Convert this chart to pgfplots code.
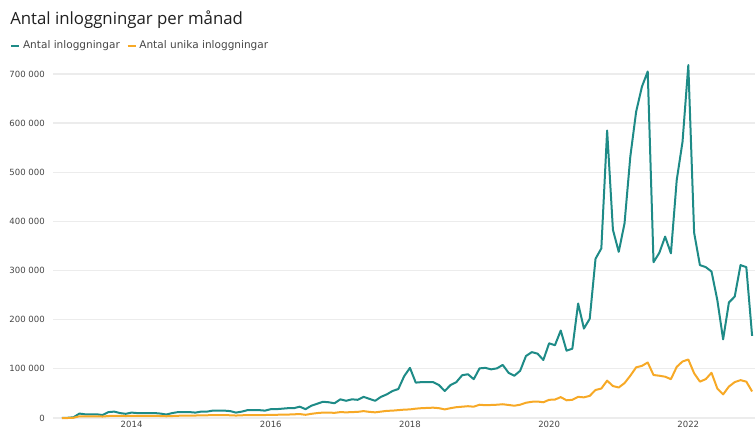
\documentclass[border=0pt]{standalone}
\usepackage{fontspec}
\setmainfont{DejaVu Sans}
\newfontfamily\titlefont{Open Sans}
\usepackage{pgfplots}
\pgfplotsset{compat=1.18}
\usepackage{pgfplotstable}

\definecolor{tealline}{RGB}{30,139,135}
\definecolor{orangeline}{RGB}{247,169,38}
\definecolor{gridc}{RGB}{236,236,236}
\definecolor{txt}{RGB}{70,70,70}

% m = month index (0 = jan 2013), total = antal inloggningar, uniq = antal unika
\pgfplotstableread{
m total uniq
0 0 0
1 500 0
2 1500 500
3 9000 3500
4 7500 3500
5 7500 3500
6 7500 3500
7 6000 3000
8 12000 4000
9 13000 4500
10 10000 4500
11 8500 4000
12 11000 4500
13 10000 4500
14 10000 4500
15 10000 4500
16 10000 4500
17 9000 4000
18 7000 3500
19 10000 4000
20 12000 4500
21 12000 5000
22 12000 5000
23 11000 5000
24 13000 5500
25 13000 5500
26 15000 6000
27 15000 6000
28 15000 6000
29 14000 5500
30 11000 5000
31 13000 5500
32 16000 6000
33 16000 6000
34 16000 6000
35 15000 6000
36 18000 6500
37 18000 6500
38 19000 7000
39 20000 7000
40 20000 7500
41 23000 8000
42 18000 6500
43 25000 8500
44 29000 10000
45 33000 11000
46 32000 11000
47 30000 10500
48 38000 12000
49 35000 11500
50 38000 12000
51 37000 12500
52 43000 14000
53 39000 12500
54 35000 11500
55 43000 13000
56 48000 14500
57 55000 15000
58 59000 16000
59 85000 17000
60 102000 17500
61 72000 19000
62 73000 20000
63 73000 20500
64 73000 21000
65 67000 20000
66 55000 17500
67 67000 20000
68 73000 22000
69 87000 23000
70 89000 24000
71 79000 23000
72 101000 27000
73 102000 26000
74 99000 26500
75 101000 27000
76 108000 28000
77 92000 26500
78 86000 25000
79 96000 27000
80 126000 31000
81 134000 33000
82 131000 33500
83 118000 32000
84 152000 37000
85 148000 37500
86 178000 42500
87 137000 36000
88 141000 37000
89 233000 43000
90 182000 42000
91 202000 45000
92 324000 57000
93 345000 60000
94 585000 76000
95 383000 65000
96 338000 62000
97 396000 71000
98 532000 86000
99 623000 103000
100 674000 106000
101 705000 113000
102 317000 87500
103 336000 86000
104 369000 84000
105 335000 79000
106 484000 104000
107 562000 115000
108 718000 119000
109 377000 91000
110 311000 74000
111 307000 79000
112 298000 92000
113 240000 60000
114 160000 48000
115 235000 64000
116 247000 73000
117 311000 77000
118 307000 74000
119 167000 54000
}\logins

\begin{document}
\begin{tikzpicture}[x=0.75pt,y=0.75pt]
\path[use as bounding box] (0,0) rectangle (755,428);
\node[anchor=west, inner sep=0pt, font=\titlefont\fontsize{12.6}{15}\selectfont, text=black!88] at (10,408) {Antal inloggningar per månad};
\begin{axis}[
  at={(39.75pt,7.5pt)}, anchor=south west,
  scale only axis, width=526.5pt, height=272.8pt,
  xmin=-1.55, xmax=119.5, ymin=0, ymax=740000,
  axis line style={draw=none},
  major tick length=0pt,
  scaled y ticks=false,
  xtick={12,36,60,84,108},
  xticklabels={2014,2016,2018,2020,2022},
  ytick={0,100000,200000,300000,400000,500000,600000,700000},
  yticklabels={0,100 000,200 000,300 000,400 000,500 000,600 000,700 000},
  ymajorgrids, grid style={gridc, line width=0.9pt},
  tick label style={font=\fontsize{6.4}{7}\selectfont, text=txt},
  yticklabel style={inner sep=0pt, xshift=-6pt},
  xticklabel style={inner sep=0pt, yshift=-2.5pt},
  clip=false,
  legend columns=2,
  legend style={at={(axis description cs:-0.0613,1.023)}, anchor=west,
    draw=none, fill=none, inner sep=0pt,
    font=\fontsize{7.9}{9}\selectfont, text=txt,
    /tikz/every even column/.append style={column sep=3pt}},
  legend cell align=left,
  legend image code/.code={\draw[#1, line width=1.6pt] (0pt,0pt) -- (6pt,0pt);},
]
\addplot[tealline, line width=1.5pt, line join=round] table[x=m, y=total] {\logins};
\addlegendentry{Antal inloggningar}
\addplot[orangeline, line width=1.5pt, line join=round] table[x=m, y=uniq] {\logins};
\addlegendentry{Antal unika inloggningar}
\end{axis}
\end{tikzpicture}
\end{document}
